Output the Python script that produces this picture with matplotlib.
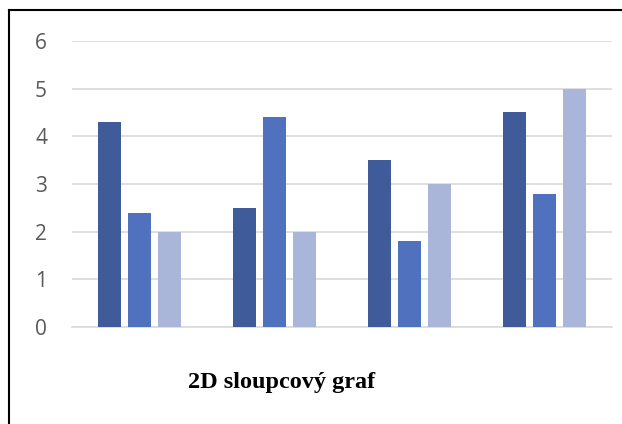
import numpy as np
import matplotlib.pyplot as plt
from matplotlib.lines import Line2D

categories = ['A', 'B', 'C', 'D']
series1 = [4.3, 2.5, 3.5, 4.5]
series2 = [2.4, 4.4, 1.8, 2.8]
series3 = [2.0, 2.0, 3.0, 5.0]
colors = ['#3F5B9A', '#4F71BE', '#A9B5D9']

fig = plt.figure(figsize=(6.22, 4.24), dpi=100)
ax = fig.add_axes([0.1158, 0.2288, 0.868, 0.6745])

x = np.arange(len(categories))
w = 0.17
step = 0.222
for i, vals in enumerate([series1, series2, series3]):
    ax.bar(x + (i - 1) * step, vals, width=w, color=colors[i], zorder=3)

ax.set_xlim(-0.5, len(categories) - 0.5)
ax.set_ylim(0, 6)
ax.set_yticks(range(0, 7))
ax.yaxis.grid(True, color='#D9D9D9', linewidth=1.2, zorder=0)
ax.set_xticks([])
for s in ['top', 'right', 'left']:
    ax.spines[s].set_visible(False)
ax.spines['bottom'].set_color('#D9D9D9')
ax.spines['bottom'].set_linewidth(1.2)
ax.tick_params(axis='y', length=0, pad=18, labelsize=15, labelcolor='#595959')
for lbl in ax.get_yticklabels():
    lbl.set_family('Open Sans')

fig.text(0.452, 0.097, '2D sloupcový graf', family='Liberation Serif',
         fontweight='bold', fontsize=17.5, ha='center', va='center')

# frame around the chart (cropped at right and bottom)
fig.add_artist(Line2D([8.5 / 622, 8.5 / 622], [0, 1 - 10 / 424],
                      transform=fig.transFigure, color='black', linewidth=1.5))
fig.add_artist(Line2D([8.5 / 622, 1], [1 - 10 / 424, 1 - 10 / 424],
                      transform=fig.transFigure, color='black', linewidth=1.5))

fig.savefig('out.png', dpi=100)
